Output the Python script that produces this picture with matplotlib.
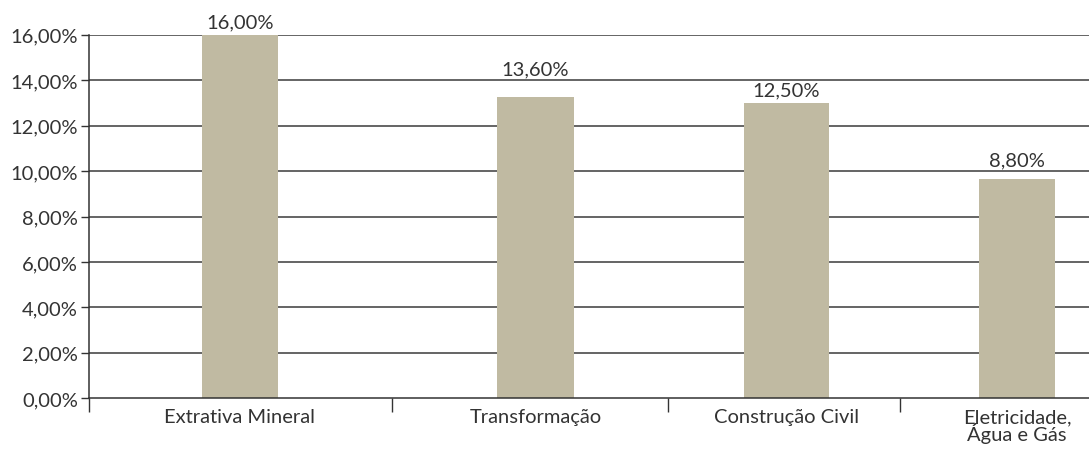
# Import libraries
import matplotlib
matplotlib.use('Agg')
import matplotlib.pyplot as plt
from matplotlib.ticker import FuncFormatter

# Data
categories = ['Extrativa Mineral', 'Transformação', 'Construção Civil', 'Eletricidade,\nÁgua e Gás']
bar_heights = [16.0, 13.26, 12.99, 9.65]
bar_labels = ['16,00%', '13,60%', '12,50%', '8,80%']
y_ticks = [0, 2, 4, 6, 8, 10, 12, 14, 16]

# Layout (pixel-like x units measured from the y axis)
bar_centers = [151, 446.5, 697.5, 928]
bar_widths = [76, 77, 85, 76]
separators = [0, 303, 579, 811]
label_offsets = [5.5, 16, 5.3, 10]

plt.rcParams['font.family'] = ['Lato', 'DejaVu Sans']
text_color = '#333333'
bar_color = '#c0baa2'
fs = 14.5

fig = plt.figure(figsize=(10.89, 4.52), dpi=100)
ax = fig.add_axes([89 / 1089, 52.7 / 452, 1000 / 1089, 363.6 / 452])

# Gridlines
for y in y_ticks[1:]:
    ax.axhline(y, color='#3a3a3a', lw=1.1, zorder=1)

# Bars
ax.bar(bar_centers, bar_heights, width=bar_widths, color=bar_color, zorder=2)

# Value labels
for x, h, lab, off in zip(bar_centers, bar_heights, bar_labels, label_offsets):
    ax.annotate(lab, (x, h), xytext=(0, off), textcoords='offset points',
                ha='center', va='baseline', fontsize=fs, color=text_color,
                annotation_clip=False)

# Axes styling
ax.set_xlim(0, 1000)
ax.set_ylim(0, 16)
ax.set_yticks(y_ticks)
ax.yaxis.set_major_formatter(FuncFormatter(lambda v, p: f'{v:.2f}'.replace('.', ',') + '%'))
ax.tick_params(axis='y', length=6, width=1, color=text_color, labelsize=fs,
               labelcolor=text_color, pad=2)

ax.set_xticks(separators, minor=True)
ax.set_xticks(bar_centers)
ax.set_xticklabels(categories, fontsize=fs, color=text_color, linespacing=0.85, va='top')
ax.tick_params(axis='x', which='major', length=0, pad=7)
ax.tick_params(axis='x', which='minor', length=10, width=1, color=text_color)

for side in ['top', 'right']:
    ax.spines[side].set_visible(False)
for side in ['left', 'bottom']:
    ax.spines[side].set_color(text_color)
    ax.spines[side].set_linewidth(1.1)

fig.savefig('out.png', dpi=100)
